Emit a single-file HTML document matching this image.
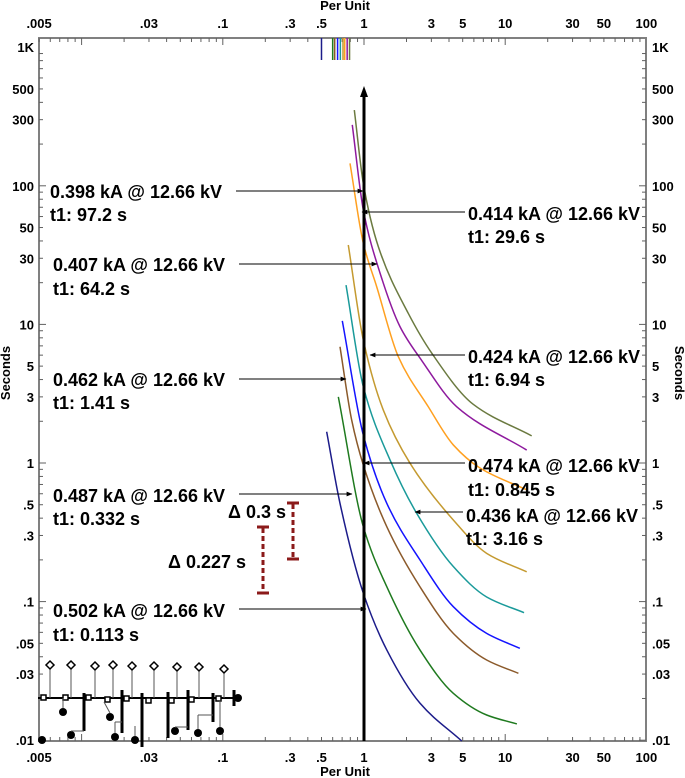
<!DOCTYPE html>
<html><head><meta charset="utf-8"><style>
html,body{margin:0;padding:0;background:#fff;}
svg{display:block;font-family:"Liberation Sans",Arial,sans-serif;}
.lbl{font-weight:bold;font-size:13px;fill:#000;}
</style></head><body>
<svg id="chart" width="685" height="778" viewBox="0 0 685 778">
<g id="grid"></g>
<g id="curves"></g>
</svg>
<script>
// ---- data ----
const xTicks = [0.005, 0.03, 0.1, 0.3, 0.5, 1, 3, 5, 10, 30, 50, 100];
const xTickLabels = ['.005', '.03', '.1', '.3', '.5', '1', '3', '5', '10', '30', '50', '100'];
const yTicks = [1000, 500, 300, 100, 50, 30, 10, 5, 3, 1, 0.5, 0.3, 0.1, 0.05, 0.03, 0.01];
const yTickLabels = ['1K', '500', '300', '100', '50', '30', '10', '5', '3', '1', '.5', '.3', '.1', '.05', '.03', '.01'];
const seriesNames = ['navy', 'green', 'brown', 'blue', 'teal', 'gold', 'orange', 'purple', 'olive'];
const seriesColors = ['#1c1c8a', '#1f7a1f', '#8b5a2b', '#1414ff', '#1a9a9a', '#c49a30', '#ffa020', '#8e1a9e', '#6b7a40'];
const navyPU = [0.544, 0.676, 0.989, 1.45, 2.49, 4.92];
const navySec = [1.68, 0.512, 0.115, 0.0448, 0.0185, 0.0095];
const greenPU = [0.658, 0.989, 1.45, 2.49, 4.29, 7.39, 12.1];
const greenSec = [3.0, 0.347, 0.128, 0.0448, 0.0218, 0.0152, 0.0131];
const brownPU = [0.676, 0.818, 0.989, 1.45, 2.49, 4.29, 7.39, 12.4];
const brownSec = [6.9, 2.04, 0.967, 0.347, 0.128, 0.059, 0.0379, 0.0304];
const bluePU = [0.702, 0.989, 1.45, 2.49, 4.29, 7.39, 12.7];
const blueSec = [10.6, 1.59, 0.512, 0.20, 0.0919, 0.059, 0.046];
const tealPU = [0.746, 0.989, 1.53, 2.36, 4.29, 7.39, 13.6];
const tealSec = [19.2, 3.55, 1.05, 0.434, 0.179, 0.108, 0.0832];
const goldPU = [0.774, 0.989, 1.37, 2.12, 4.29, 7.39, 14.2];
const goldSec = [37.4, 7.71, 2.41, 0.995, 0.388, 0.223, 0.164];
const orangePU = [0.796, 0.989, 1.23, 1.75, 2.85, 4.29, 6.63, 14.2];
const orangeSec = [145, 38.5, 18.7, 5.85, 2.55, 1.35, 0.92, 0.64];
const purplePU = [0.826, 0.989, 1.30, 1.80, 2.56, 4.53, 14.2];
const purpleSec = [275, 66.9, 23.4, 9.62, 5.5, 2.55, 1.24];
const olivePU = [0.854, 0.989, 1.263, 2.06, 3.02, 5.94, 15.4];
const oliveSec = [352, 104, 36.4, 12.0, 6.2, 2.65, 1.57];
const pickupPU = [0.5, 0.6, 0.62, 0.65, 0.68, 0.71, 0.73, 0.76, 0.79];

// ---- axes ----
const X0 = 364, PXD = 141.2, Y0 = 463, PYD = 138.6;
const L = 39, R = 646, T = 38, B = 741;
function xs(v){return X0 + PXD*Math.log10(v);}
function ys(t){return Y0 - PYD*Math.log10(t);}
const NS='http://www.w3.org/2000/svg';
function mk(tag, attrs, parent){const e=document.createElementNS(NS,tag);for(const k in attrs)e.setAttribute(k,attrs[k]);parent.appendChild(e);return e;}
const grid=document.getElementById('grid');
const curves=document.getElementById('curves');

const frame = mk('rect',{x:L,y:T,width:R-L,height:B-T,fill:'none',stroke:'#808080','stroke-width':2},grid);


for(let d=-3; d<2; d++){
  for(let m=1;m<10;m++){
    const v=m*Math.pow(10,d); if(v<0.005||v>100) continue;
    const x=xs(v); const len=(m===1)?7:4;
    mk('line',{x1:x,y1:T,x2:x,y2:T+len,stroke:'#606060','stroke-width':1},grid);
    mk('line',{x1:x,y1:B,x2:x,y2:B-len,stroke:'#606060','stroke-width':1},grid);
  }
}
for(let d=-2; d<3; d++){
  for(let m=1;m<10;m++){
    const t=m*Math.pow(10,d); const y=ys(t); const len=(m===1)?7:4;
    mk('line',{x1:L,y1:y,x2:L+len,y2:y,stroke:'#606060','stroke-width':1},grid);
    mk('line',{x1:R,y1:y,x2:R-len,y2:y,stroke:'#606060','stroke-width':1},grid);
  }
}
xTicks.forEach((v,i)=>{
  const a=mk('text',{x:xs(v),y:28,'text-anchor':'middle',class:'lbl'},grid);a.textContent=xTickLabels[i];
  
  
  const b=mk('text',{x:xs(v),y:762,'text-anchor':'middle',class:'lbl'},grid);b.textContent=xTickLabels[i];
  
  
});
yTicks.forEach((t,i)=>{
  const a=mk('text',{x:34,y:ys(t)+5,'text-anchor':'end',class:'lbl'},grid);a.textContent=yTickLabels[i];
  
  
  const b=mk('text',{x:652,y:ys(t)+5,'text-anchor':'start',class:'lbl'},grid);b.textContent=yTickLabels[i];
  
  
});
function axTitle(txt,x,y,rot,name){const e=mk('text',{x:x,y:y,'text-anchor':'middle',class:'lbl',transform:rot?`rotate(${rot} ${x} ${y})`:''},grid);e.textContent=txt;
  
  }
axTitle('Per Unit',345,10,0,'x-axis-title-top');
axTitle('Per Unit',345,776,0,'x-axis-title-bottom');
axTitle('Seconds',10,373,-90,'y-axis-title-left');
axTitle('Seconds',675,373,90,'y-axis-title-right');

// ---- curves (monotone cubic interpolation in pixel space) ----
const seriesPU=[navyPU,greenPU,brownPU,bluePU,tealPU,goldPU,orangePU,purplePU,olivePU];
const seriesSec=[navySec,greenSec,brownSec,blueSec,tealSec,goldSec,orangeSec,purpleSec,oliveSec];
function monoPath(pts){
  const n=pts.length, xsA=pts.map(p=>p[0]), ysA=pts.map(p=>p[1]);
  const dx=[],dy=[],m=[];
  for(let i=0;i<n-1;i++){dx.push(xsA[i+1]-xsA[i]);dy.push(ysA[i+1]-ysA[i]);m.push(dy[i]/dx[i]);}
  const t=[m[0]];
  for(let i=1;i<n-1;i++){
    if(m[i-1]*m[i]<=0) t.push(0);
    else {const w1=2*dx[i]+dx[i-1],w2=dx[i]+2*dx[i-1];t.push((w1+w2)/(w1/m[i-1]+w2/m[i]));}
  }
  t.push(m[n-2]);
  let d=`M${xsA[0]},${ysA[0]}`;
  for(let i=0;i<n-1;i++){
    const h=dx[i];
    d+=` C${xsA[i]+h/3},${ysA[i]+t[i]*h/3} ${xsA[i+1]-h/3},${ysA[i+1]-t[i+1]*h/3} ${xsA[i+1]},${ysA[i+1]}`;
  }
  return d;
}
seriesNames.forEach((n,i)=>{
  const pts=seriesPU[i].map((v,j)=>[xs(v),Math.min(ys(seriesSec[i][j]),B)]);
  const p=mk('path',{d:monoPath(pts),fill:'none',stroke:seriesColors[i],'stroke-width':1.5},curves);
  
  
  const tk=mk('line',{x1:xs(pickupPU[i]),y1:T,x2:xs(pickupPU[i]),y2:60,stroke:seriesColors[i],'stroke-width':1.5},curves);
  
  
});
const vl=mk('line',{x1:xs(1),y1:B,x2:xs(1),y2:92,stroke:'#000','stroke-width':3},curves);


const ah=mk('path',{d:`M${xs(1)-4},97 L${xs(1)},86 L${xs(1)+4},97 z`,fill:'#000'},curves);


</script>
<svg style="position:absolute;left:0;top:0" width="685" height="778">
<defs><marker id="ah2" viewBox="0 0 10 10" refX="9" refY="5" markerWidth="6" markerHeight="6" orient="auto"><path d="M0,1 L10,5 L0,9 z" fill="#000"/></marker></defs>
<g font-family="Liberation Sans, Arial, sans-serif" font-weight="bold" font-size="18">
<g>
<text x="50" y="198">0.398 kA @ 12.66 kV</text><text x="50" y="221">t1: 97.2 s</text>
<line x1="236" y1="191" x2="363" y2="191" stroke="#000" stroke-width="1" marker-end="url(#ah2)"/></g>
<g>
<text x="53" y="271">0.407 kA @ 12.66 kV</text><text x="53" y="295">t1: 64.2 s</text>
<line x1="239" y1="264" x2="377" y2="264" stroke="#000" stroke-width="1" marker-end="url(#ah2)"/></g>
<g>
<text x="53" y="386">0.462 kA @ 12.66 kV</text><text x="53" y="409">t1: 1.41 s</text>
<line x1="239" y1="379" x2="346" y2="379" stroke="#000" stroke-width="1" marker-end="url(#ah2)"/></g>
<g>
<text x="53" y="502">0.487 kA @ 12.66 kV</text><text x="53" y="525">t1: 0.332 s</text>
<line x1="239" y1="494" x2="352" y2="494" stroke="#000" stroke-width="1" marker-end="url(#ah2)"/></g>
<g>
<text x="53" y="617">0.502 kA @ 12.66 kV</text><text x="53" y="641">t1: 0.113 s</text>
<line x1="239" y1="609" x2="366" y2="609" stroke="#000" stroke-width="1" marker-end="url(#ah2)"/></g>
<g>
<text x="468" y="220">0.414 kA @ 12.66 kV</text><text x="468" y="243">t1: 29.6 s</text>
<line x1="465" y1="212" x2="362" y2="212" stroke="#000" stroke-width="1" marker-end="url(#ah2)"/></g>
<g>
<text x="468" y="363">0.424 kA @ 12.66 kV</text><text x="468" y="386">t1: 6.94 s</text>
<line x1="465" y1="355" x2="370" y2="355" stroke="#000" stroke-width="1" marker-end="url(#ah2)"/></g>
<g>
<text x="468" y="472">0.474 kA @ 12.66 kV</text><text x="468" y="496">t1: 0.845 s</text>
<line x1="465" y1="463" x2="364" y2="463" stroke="#000" stroke-width="1" marker-end="url(#ah2)"/></g>
<g>
<text x="466" y="522">0.436 kA @ 12.66 kV</text><text x="466" y="545">t1: 3.16 s</text>
<line x1="463" y1="512" x2="415" y2="512" stroke="#000" stroke-width="1" marker-end="url(#ah2)"/></g>
<text x="228" y="518">Δ 0.3 s</text>
<text x="168" y="568">Δ 0.227 s</text>
</g>
<g stroke="#8b1a1a" stroke-width="3">
<line x1="263" y1="528" x2="263" y2="592" stroke-dasharray="5,3"/>
<line x1="257" y1="527" x2="269" y2="527"/><line x1="257" y1="593" x2="269" y2="593"/>
</g>
<g stroke="#8b1a1a" stroke-width="3">
<line x1="293" y1="504" x2="293" y2="558" stroke-dasharray="5,3"/>
<line x1="287" y1="503" x2="299" y2="503"/><line x1="287" y1="559" x2="299" y2="559"/>
</g>
<g stroke="#000" fill="none">
<line x1="38" y1="698" x2="238" y2="698" stroke-width="2"/>
<g stroke="#555" stroke-width="1">
<line x1="50" y1="668" x2="50" y2="698"/><line x1="71" y1="668" x2="71" y2="698"/><line x1="95" y1="668" x2="95" y2="698"/>
<line x1="113" y1="668" x2="113" y2="698"/><line x1="132" y1="668" x2="132" y2="698"/><line x1="154" y1="668" x2="154" y2="698"/>
<line x1="177" y1="668" x2="177" y2="698"/><line x1="199" y1="668" x2="199" y2="698"/><line x1="224" y1="670" x2="224" y2="698"/>
</g>
<g fill="#fff" stroke-width="1.5">
<path d="M50,661 l4,4 l-4,4 l-4,-4z"/><path d="M71,661 l4,4 l-4,4 l-4,-4z"/><path d="M95,662 l4,4 l-4,4 l-4,-4z"/>
<path d="M113,661 l4,4 l-4,4 l-4,-4z"/><path d="M132,662 l4,4 l-4,4 l-4,-4z"/><path d="M154,662 l4,4 l-4,4 l-4,-4z"/>
<path d="M177,663 l4,4 l-4,4 l-4,-4z"/><path d="M199,663 l4,4 l-4,4 l-4,-4z"/><path d="M224,665 l4,4 l-4,4 l-4,-4z"/>
<rect x="41" y="695" width="5" height="5"/><rect x="63" y="695" width="5" height="5"/><rect x="86" y="695" width="5" height="5"/>
<rect x="105" y="697" width="5" height="5"/><rect x="124" y="696" width="5" height="5"/><rect x="146" y="698" width="5" height="5"/>
<rect x="169" y="698" width="5" height="5"/><rect x="189" y="697" width="5" height="5"/><rect x="216" y="696" width="5" height="5"/>
</g>
<g stroke-width="3">
<line x1="84" y1="693" x2="84" y2="731"/><line x1="122" y1="690" x2="122" y2="733"/><line x1="142" y1="693" x2="142" y2="747"/>
<line x1="168" y1="692" x2="168" y2="738"/><line x1="188" y1="690" x2="188" y2="730"/><line x1="213" y1="693" x2="213" y2="722"/>
<line x1="234" y1="690" x2="234" y2="706"/>
</g>
<g fill="#000" stroke="none">
<circle cx="63" cy="712" r="4"/><circle cx="71" cy="735" r="4"/><circle cx="110" cy="717" r="4"/><circle cx="115" cy="737" r="4"/>
<circle cx="135" cy="740" r="4"/><circle cx="175" cy="731" r="4"/><circle cx="198" cy="733" r="4"/><circle cx="220" cy="731" r="4"/>
<circle cx="42" cy="740" r="4"/><circle cx="238" cy="698" r="4"/>
</g>
<g stroke="#555" stroke-width="1">
<line x1="63" y1="698" x2="63" y2="708"/><line x1="71" y1="731" x2="84" y2="731"/><line x1="104" y1="702" x2="110" y2="713"/>
<line x1="115" y1="733" x2="115" y2="722"/><line x1="115" y1="722" x2="122" y2="722"/><line x1="135" y1="736" x2="135" y2="726"/>
<line x1="175" y1="727" x2="188" y2="727"/><line x1="198" y1="729" x2="198" y2="715"/><line x1="198" y1="715" x2="213" y2="715"/>
<line x1="220" y1="727" x2="220" y2="700"/>
</g>
</g>
</svg>
</body></html>
